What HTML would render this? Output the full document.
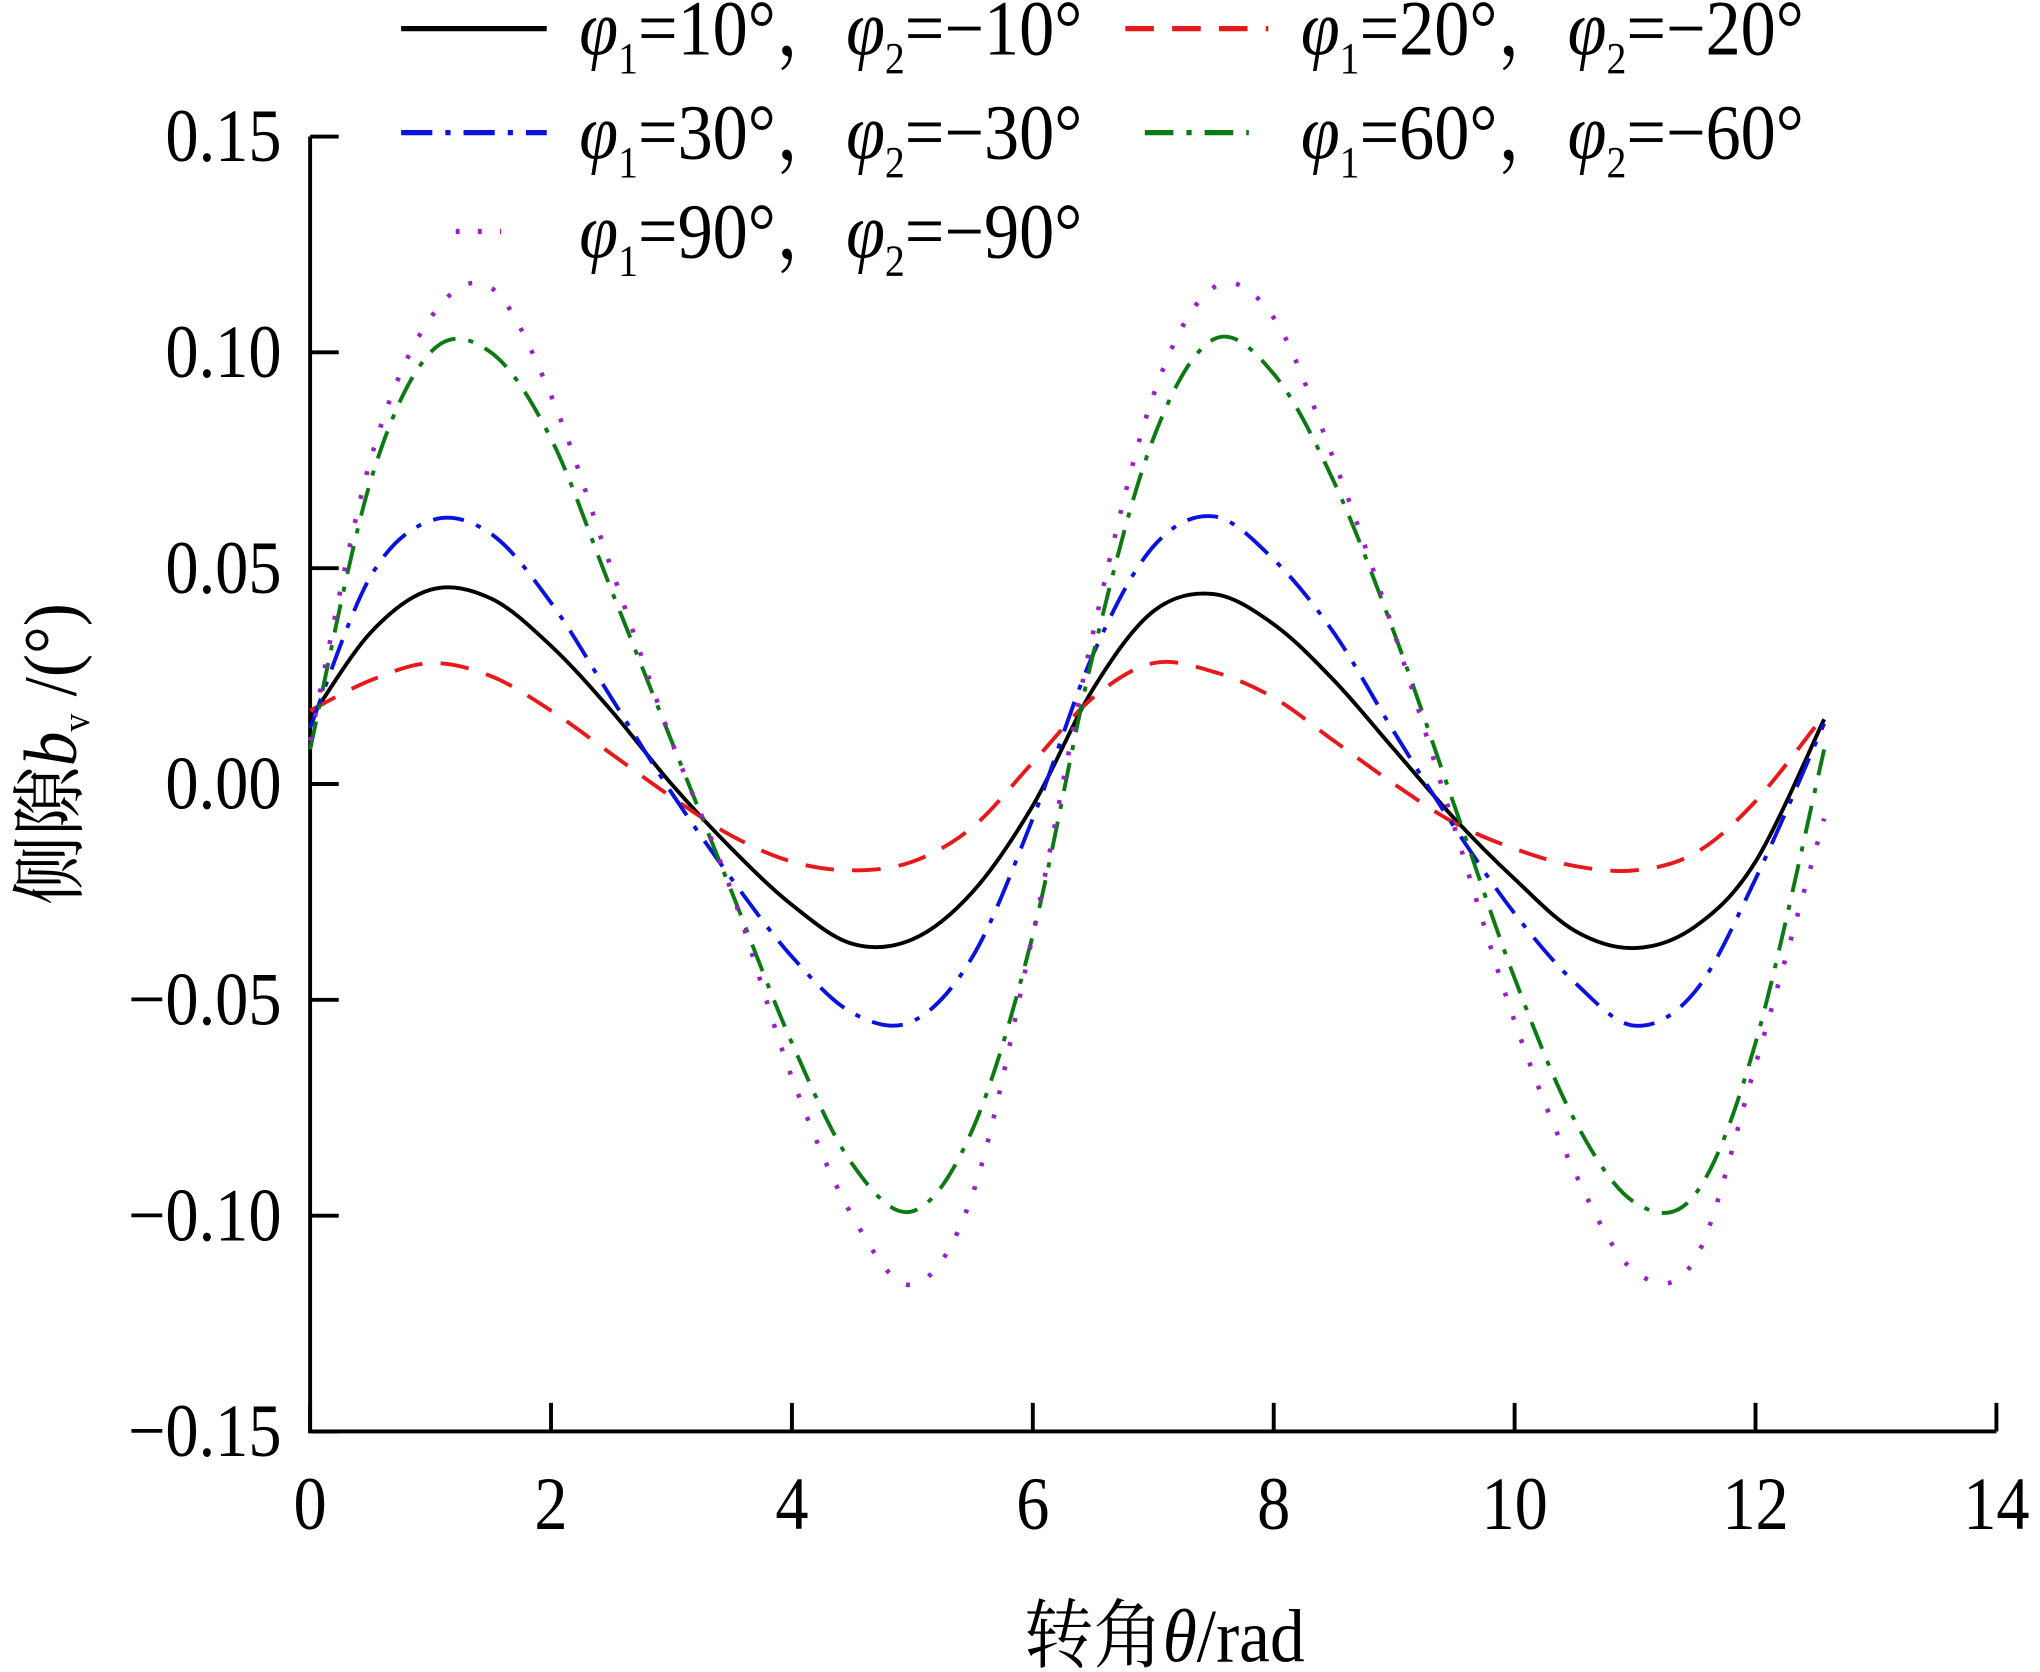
<!DOCTYPE html>
<html><head><meta charset="utf-8"><style>
html,body{margin:0;padding:0;background:#fff;}
svg{display:block;}
text{font-family:"Liberation Serif","Noto Serif CJK SC",serif;fill:#000;}
</style></head><body>
<svg id="chart" width="2040" height="1672" viewBox="0 0 1568 1286" xmlns="http://www.w3.org/2000/svg">
<g id="axes"></g>
<g id="series"></g>
<g id="legend"></g>
<text transform="translate(895,1278) scale(0.92,1)" text-anchor="middle" font-size="58">转角<tspan font-style="italic">θ</tspan>/rad</text>
<text transform="translate(58,580) rotate(-90) scale(0.92,1)" text-anchor="middle" font-size="58">侧隙<tspan font-style="italic">b</tspan><tspan font-size="30" dy="10">v</tspan><tspan dy="-10"> /(°)</tspan></text>
</svg>
<script>
const xVals=[0,0.5,1,1.5,2,2.5,3,3.5,4,4.5,5,5.5,6,6.5,7,7.5,8,8.5,9,9.5,10,10.5,11,11.5,12,12.57];
const s10=[0.015,0.035,0.045,0.043,0.032,0.017,0.000,-0.015,-0.028,-0.037,-0.036,-0.025,-0.005,0.022,0.040,0.044,0.037,0.024,0.008,-0.008,-0.022,-0.034,-0.038,-0.033,-0.018,0.015];
const s20=[0.017,0.024,0.028,0.025,0.017,0.007,-0.003,-0.012,-0.018,-0.020,-0.018,-0.010,0.005,0.020,0.028,0.026,0.020,0.010,0.000,-0.009,-0.015,-0.019,-0.020,-0.016,-0.004,0.016];
const s30=[0.013,0.048,0.061,0.058,0.042,0.020,-0.002,-0.022,-0.040,-0.053,-0.055,-0.040,-0.008,0.030,0.055,0.062,0.052,0.035,0.012,-0.010,-0.030,-0.046,-0.056,-0.048,-0.022,0.014];
const s60=[0.008,0.070,0.100,0.100,0.080,0.045,0.010,-0.025,-0.060,-0.088,-0.099,-0.080,-0.035,0.030,0.080,0.103,0.095,0.070,0.035,-0.005,-0.045,-0.078,-0.097,-0.095,-0.060,0.008];
const s90=[0.010,0.075,0.108,0.115,0.090,0.050,0.010,-0.025,-0.068,-0.100,-0.116,-0.095,-0.035,0.035,0.090,0.115,0.108,0.075,0.035,-0.010,-0.055,-0.090,-0.113,-0.110,-0.065,-0.008];
const xTicks=[0,2,4,6,8,10,12,14];
const yTicks=[-0.15,-0.10,-0.05,0.00,0.05,0.10,0.15];
const yTickLabels=["−0.15","−0.10","−0.05","0.00","0.05","0.10","0.15"];
const NS="http://www.w3.org/2000/svg";
const X0=238,X1=1535,Y0=1101,Y1=105;
const xs=v=>X0+(v-0)/(14-0)*(X1-X0);
const ys=v=>Y0-(v+0.15)/0.30*(Y0-Y1);
function mk(t,a,p){const e=document.createElementNS(NS,t);for(const k in a)e.setAttribute(k,a[k]);p.appendChild(e);return e;}
const axes=document.getElementById('axes');
let e=mk('path',{d:`M${X0},${Y1} V${Y0} H${X1}`,stroke:'#000','stroke-width':3,fill:'none'},axes);


xTicks.forEach(t=>{
 const l=mk('line',{x1:xs(t),x2:xs(t),y1:Y0,y2:Y0-22,stroke:'#000','stroke-width':3},axes);
 
 
 const tx=mk('text',{transform:`translate(${xs(t)},${Y0+75}) scale(0.88,1)`,'text-anchor':'middle','font-size':58},axes);tx.textContent=t;
 
 
});
yTicks.forEach((t,i)=>{
 const l=mk('line',{x1:X0,x2:X0+22,y1:ys(t),y2:ys(t),stroke:'#000','stroke-width':3},axes);
 
 
 const tx=mk('text',{transform:`translate(${X0-22},${ys(t)+19}) scale(0.88,1)`,'text-anchor':'end','font-size':58},axes);tx.textContent=yTickLabels[i];
 
 
});
function pathOf(ys_){
 const p=xVals.map((x,i)=>[xs(x),ys(ys_[i])]);
 let d=`M${p[0][0]},${p[0][1]}`;
 for(let i=0;i<p.length-1;i++){
  const a=p[Math.max(0,i-1)],b=p[i],c=p[i+1],dd=p[Math.min(p.length-1,i+2)];
  d+=` C${b[0]+(c[0]-a[0])/6},${b[1]+(c[1]-a[1])/6} ${c[0]-(dd[0]-b[0])/6},${c[1]-(dd[1]-b[1])/6} ${c[0]},${c[1]}`;
 }
 return d;
}
const styles=[
 {d:s10,c:'#000',da:'',w:3,n:'series-phi10'},
 {d:s20,c:'#e8191b',da:'22 14',w:3,n:'series-phi20'},
 {d:s30,c:'#0a12e0',da:'24 10 4 10',w:3,n:'series-phi30'},
 {d:s60,c:'#0c7a12',da:'22 10 4 10',w:3,n:'series-phi60'},
 {d:s90,c:'#9b1fc8',da:'3 16',w:3.5,n:'series-phi90'}];
const sg=document.getElementById('series');
styles.forEach(s=>{
 const p=mk('path',{d:pathOf(s.d),stroke:s.c,'stroke-width':s.w,fill:'none','stroke-dasharray':s.da},sg);
 
 
});
const lg=document.getElementById('legend');
const entries=[
 {x1:308,x2:420,y:22,tx:445,c:'#000',da:'',a:'10'},
 {x1:865,x2:975,y:22,tx:1000,c:'#e8191b',da:'22 14',a:'20'},
 {x1:308,x2:420,y:102,tx:445,c:'#0a12e0',da:'24 10 4 10',a:'30'},
 {x1:880,x2:960,y:102,tx:1000,c:'#0c7a12',da:'22 10 4 10',a:'60'},
 {x1:350,x2:385,y:178,tx:445,c:'#9b1fc8',da:'3 14',a:'90'}];
entries.forEach(en=>{
 const g=mk('g',{},lg);
 
 
 mk('line',{x1:en.x1,x2:en.x2,y1:en.y,y2:en.y,stroke:en.c,'stroke-width':4,'stroke-dasharray':en.da},g);
 const t=mk('text',{transform:`translate(${en.tx},${en.y+20}) scale(0.9,1)`,'font-size':60},g);
 t.innerHTML=`<tspan font-style="italic">φ</tspan><tspan font-size="34" dy="14">1</tspan><tspan dy="-14">=${en.a}°，</tspan><tspan font-style="italic">φ</tspan><tspan font-size="34" dy="14">2</tspan><tspan dy="-14">=−${en.a}°</tspan>`;
});
</script>
</body></html>
